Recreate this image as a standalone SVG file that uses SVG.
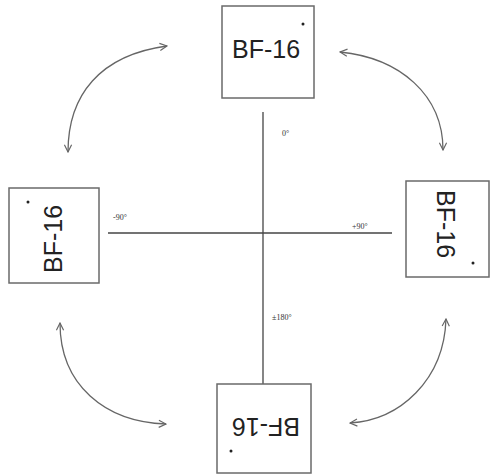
<svg xmlns="http://www.w3.org/2000/svg" width="491" height="476" viewBox="0 0 491 476">
<style>
.box{fill:#fff;stroke:#6a6a6a;stroke-width:1.5}
.lbl{font-family:"Liberation Sans",Arial,sans-serif;font-size:25px;fill:#222}
.ang{font-family:"Liberation Serif","Times New Roman",serif;font-size:8px;fill:#333}
.axis{stroke:#444;stroke-width:1.3;fill:none}
.arc{stroke:#666;stroke-width:1.3;fill:none;marker-start:url(#ah);marker-end:url(#ah)}
.dot{fill:#222}
</style>
<defs>
<marker id="ah" viewBox="0 0 10 10" refX="9" refY="5" markerWidth="9" markerHeight="9" markerUnits="userSpaceOnUse" orient="auto-start-reverse">
<path d="M1 1 L9 5 L1 9" fill="none" stroke="#666" stroke-width="1.3"/>
</marker>
</defs>
<rect width="491" height="476" fill="#fff"/>
<g id="connectors">
<line class="axis" x1="263" y1="112" x2="263" y2="384"/>
<line class="axis" x1="108" y1="233" x2="392" y2="233"/>
<path class="arc" d="M68 152 C68 95 100 55 167 46"/>
<path class="arc" d="M340 52 C400 58 443 95 443 150"/>
<path class="arc" d="M60 323 C60 385 105 422 166 424"/>
<path class="arc" d="M446 319 C444 380 400 420 350 423"/>
<text class="ang" x="282" y="136">0°</text>
<text class="ang" x="113" y="220">-90°</text>
<text class="ang" x="352" y="229">+90°</text>
<text class="ang" x="272" y="320">±180°</text>
</g>
<g id="node-top">
<rect class="box" x="222" y="6" width="92" height="92"/>
<text class="lbl" x="266" y="58" text-anchor="middle">BF-16</text>
<circle class="dot" cx="303" cy="24" r="1.5"/>
</g>
<g id="node-left">
<rect class="box" x="9" y="188" width="90" height="95"/>
<text class="lbl" transform="translate(62 239) rotate(-90)" text-anchor="middle">BF-16</text>
<circle class="dot" cx="28" cy="202" r="1.5"/>
</g>
<g id="node-right">
<rect class="box" x="406" y="181" width="83" height="96"/>
<text class="lbl" transform="translate(437 224) rotate(90)" text-anchor="middle">BF-16</text>
<circle class="dot" cx="473" cy="263" r="1.5"/>
</g>
<g id="node-bottom">
<rect class="box" x="217" y="384" width="94" height="89"/>
<text class="lbl" transform="translate(266 418) rotate(180)" text-anchor="middle">BF-16</text>
<circle class="dot" cx="231" cy="451" r="1.5"/>
</g>
</svg>
